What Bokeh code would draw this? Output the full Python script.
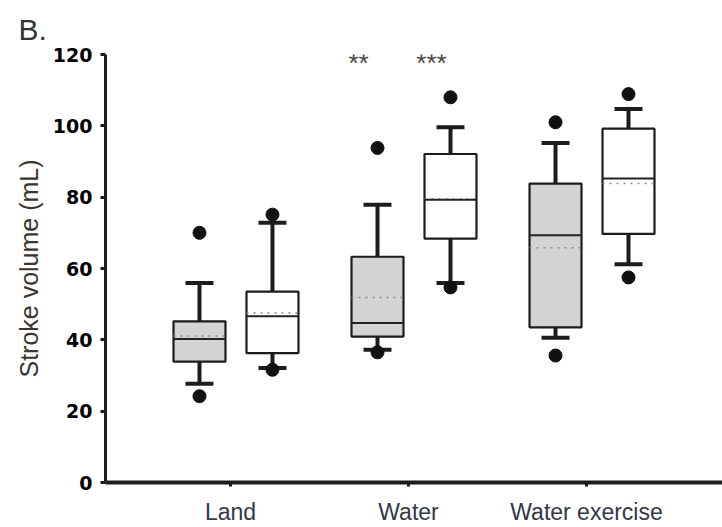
from bokeh.plotting import figure
from bokeh.models import Range1d, FixedTicker
from bokeh.core.properties import value
from bokeh.embed import file_html
from bokeh.resources import INLINE

# ---- data ----
categories = ["Land", "Water", "Water exercise"]

# grey boxes (first condition)
grey_whisker_low = [27.7, 37.2, 40.6]
grey_q1 = [33.9, 40.9, 43.5]
grey_median = [40.2, 44.7, 69.3]
grey_mean = [41.1, 51.9, 65.8]
grey_q3 = [45.2, 63.3, 83.8]
grey_whisker_high = [55.9, 77.9, 95.2]
grey_outlier_low = [24.2, 36.5, 35.6]
grey_outlier_high = [70.0, 93.8, 101.0]
grey_signif = ["", "**", ""]

# white boxes (second condition)
white_whisker_low = [32.1, 55.9, 61.2]
white_q1 = [36.3, 68.4, 69.7]
white_median = [46.6, 79.3, 85.2]
white_mean = [47.5, 79.5, 83.8]
white_q3 = [53.5, 92.1, 99.2]
white_whisker_high = [72.8, 99.6, 104.7]
white_outlier_low = [31.6, 54.7, 57.5]
white_outlier_high = [75.1, 108.0, 108.9]
white_signif = ["", "***", ""]

y_ticks = [0, 20, 40, 60, 80, 100, 120]

# ---- layout constants ----
GREY_OFF, WHITE_OFF = -0.174, 0.236
BOX_W = 0.292
CAP_W = 0.157
STAR_Y = 117.5
INK = "#1c1c1c"

idx = list(range(len(categories)))

p = figure(width=722, height=527, output_backend="svg", toolbar_location=None,
           x_range=Range1d(-0.702, 2.764), y_range=Range1d(0, 120),
           min_border_left=105, min_border_right=0, min_border_top=54,
           min_border_bottom=43, background_fill_color="white",
           border_fill_color="white")
p.grid.visible = False
p.outline_line_color = None

p.title.text = "B."
p.title.align = "left"
p.title.offset = -87
p.title.standoff = 17
p.title.text_font = "Liberation Sans"
p.title.text_font_size = "30px"
p.title.text_font_style = "normal"
p.title.text_color = "#333333"


def draw(offset, fill, wl, q1, med, mean, q3, wh, ol, oh, sig):
    xs = [i + offset for i in idx]
    left = [x - BOX_W / 2 for x in xs]
    right = [x + BOX_W / 2 for x in xs]
    cl = [x - CAP_W / 2 for x in xs]
    cr = [x + CAP_W / 2 for x in xs]
    # whiskers
    p.segment(x0=xs, y0=q3, x1=xs, y1=wh, line_color=INK, line_width=4)
    p.segment(x0=xs, y0=wl, x1=xs, y1=q1, line_color=INK, line_width=4)
    p.segment(x0=cl, y0=wh, x1=cr, y1=wh, line_color=INK, line_width=4)
    p.segment(x0=cl, y0=wl, x1=cr, y1=wl, line_color=INK, line_width=4)
    # box
    p.vbar(x=xs, width=BOX_W, bottom=q1, top=q3, fill_color=fill,
           line_color=INK, line_width=2.2)
    # mean (dotted) and median (solid)
    p.segment(x0=left, y0=mean, x1=right, y1=mean, line_color="#8a8a8a",
              line_width=1.5, line_dash="2 5")
    p.segment(x0=left, y0=med, x1=right, y1=med, line_color="#222222",
              line_width=2)
    # outliers
    p.scatter(x=xs + xs, y=ol + oh, size=13, fill_color="#111111",
              line_color="#111111")
    # significance stars
    p.text(x=xs, y=[STAR_Y] * len(xs), text=sig, x_offset=-19,
           text_align="center", text_baseline="alphabetic",
           text_font=value("Liberation Sans"), text_font_size="26px",
           text_color="#444444")


draw(GREY_OFF, "#d2d3d5", grey_whisker_low, grey_q1, grey_median, grey_mean,
     grey_q3, grey_whisker_high, grey_outlier_low, grey_outlier_high, grey_signif)
draw(WHITE_OFF, "#ffffff", white_whisker_low, white_q1, white_median, white_mean,
     white_q3, white_whisker_high, white_outlier_low, white_outlier_high, white_signif)

# y axis
ya = p.yaxis[0]
ya.ticker = FixedTicker(ticks=y_ticks)
ya.axis_line_width = 3
ya.axis_line_color = INK
ya.major_tick_in = 0
ya.major_tick_out = 5
ya.major_tick_line_width = 3
ya.major_tick_line_color = INK
ya.minor_tick_line_color = None
ya.major_label_text_font = "DejaVu Sans"
ya.major_label_text_font_style = "bold"
ya.major_label_text_font_size = "19px"
ya.major_label_text_color = "#000000"
ya.major_label_standoff = 8
ya.axis_label = "Stroke volume (mL)"
ya.axis_label_text_font = "Liberation Sans"
ya.axis_label_text_font_size = "25px"
ya.axis_label_text_font_style = "normal"
ya.axis_label_text_color = "#3a3530"
ya.axis_label_standoff = 7

# x axis
xa = p.xaxis[0]
xa.ticker = FixedTicker(ticks=idx)
xa.major_label_overrides = {i: c for i, c in zip(idx, categories)}
xa.axis_line_width = 4
xa.axis_line_color = INK
xa.major_tick_in = 0
xa.major_tick_out = 4
xa.major_tick_line_width = 3
xa.major_tick_line_color = INK
xa.minor_tick_line_color = None
xa.major_label_text_font = "Liberation Sans"
xa.major_label_text_font_size = "23px"
xa.major_label_text_color = "#333844"
xa.major_label_standoff = 12

open("out.html", "w").write(file_html(p, INLINE))
